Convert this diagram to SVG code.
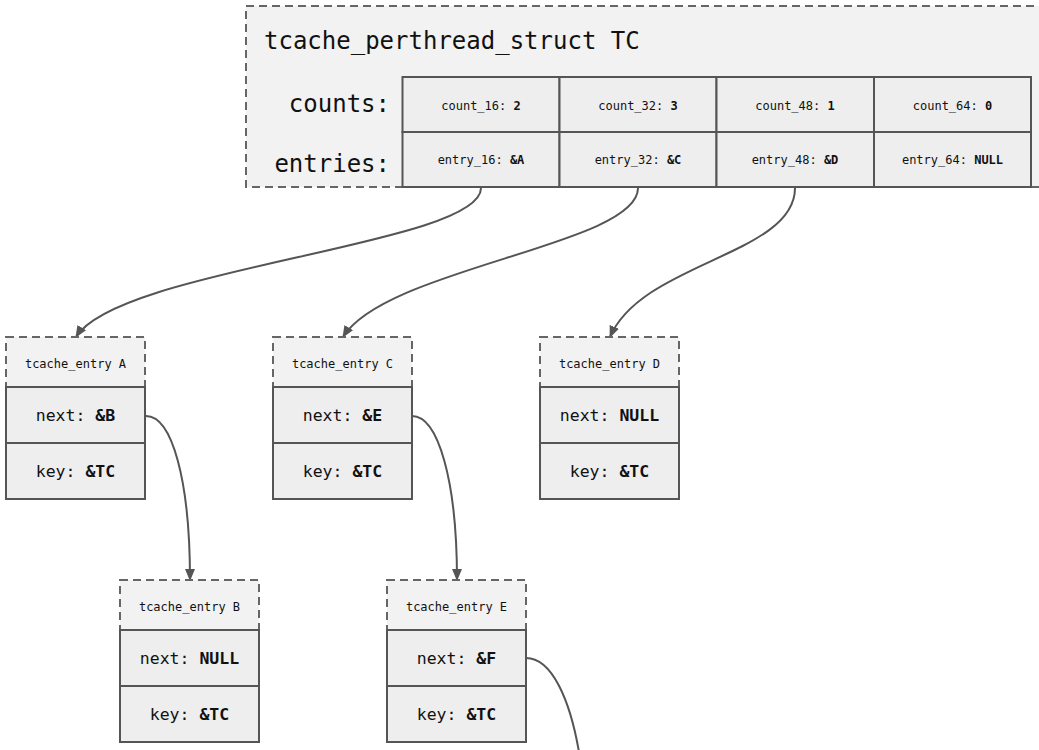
<svg xmlns="http://www.w3.org/2000/svg" width="1039" height="750" viewBox="0 0 1039 750">
<style>
text{font-family:"DejaVu Sans Mono","Liberation Mono",monospace;fill:#111}
.hdr{fill:#f2f2f2;stroke:#666;stroke-width:2;stroke-dasharray:8 5}
.cell{fill:#eeeeee;stroke:#555;stroke-width:2}
.s{font-size:12px;text-anchor:middle}
.m{font-size:16.5px;text-anchor:middle}
.big{font-size:24px}
.b{font-weight:bold}
.edge{fill:none;stroke:#555;stroke-width:2;marker-end:url(#arr)}
</style>
<defs>
<marker id="arr" viewBox="0 0 12 10" refX="11" refY="5" markerWidth="12" markerHeight="10" markerUnits="userSpaceOnUse" orient="auto">
<path d="M0,0 L12,5 L0,10 z" fill="#555"/>
</marker>
</defs>
<rect width="1039" height="750" fill="#ffffff"/>
<g id="TC">
<rect class="hdr" x="246" y="6" width="820" height="181"/>
<text class="big" x="264" y="49">tcache_perthread_struct TC</text>
<text class="big" x="390" y="112" text-anchor="end">counts:</text>
<text class="big" x="390" y="172" text-anchor="end">entries:</text>
<rect class="cell" x="402.5" y="77" width="157" height="55"/>
<rect class="cell" x="559.5" y="77" width="157" height="55"/>
<rect class="cell" x="716.5" y="77" width="157.5" height="55"/>
<rect class="cell" x="874" y="77" width="157" height="55"/>
<rect class="cell" x="402.5" y="132" width="157" height="55"/>
<rect class="cell" x="559.5" y="132" width="157" height="55"/>
<rect class="cell" x="716.5" y="132" width="157.5" height="55"/>
<rect class="cell" x="874" y="132" width="157" height="55"/>
<text class="s" x="481" y="110">count_16: <tspan class="b">2</tspan></text>
<text class="s" x="638" y="110">count_32: <tspan class="b">3</tspan></text>
<text class="s" x="795" y="110">count_48: <tspan class="b">1</tspan></text>
<text class="s" x="952.5" y="110">count_64: <tspan class="b">0</tspan></text>
<text class="s" x="481" y="164">entry_16: <tspan class="b">&amp;A</tspan></text>
<text class="s" x="638" y="164">entry_32: <tspan class="b">&amp;C</tspan></text>
<text class="s" x="795" y="164">entry_48: <tspan class="b">&amp;D</tspan></text>
<text class="s" x="952.5" y="164">entry_64: <tspan class="b">NULL</tspan></text>
</g>
<g id="connectors">
<path class="edge" d="M481,188 C481,245 118,268 76,337"/>
<path class="edge" d="M638,188 C638,245 385,268 343,337"/>
<path class="edge" d="M795,188 C795,255 642,262 610,337"/>
<path class="edge" d="M146,416 C172,416 190,480 190,580"/>
<path class="edge" d="M412,416 C438,416 457,480 457,580"/>
<path fill="none" stroke="#555" stroke-width="2" d="M526,658 C552,658 570,700 579,752"/>
</g>
<g id="A">
<rect class="hdr" x="6" y="337" width="139" height="50"/>
<rect class="cell" x="6" y="387" width="139" height="56"/>
<rect class="cell" x="6" y="443" width="139" height="56"/>
<text class="s" x="75.5" y="368">tcache_entry A</text>
<text class="m" x="75.5" y="421">next: <tspan class="b">&amp;B</tspan></text>
<text class="m" x="75.5" y="477">key: <tspan class="b">&amp;TC</tspan></text>
</g>
<g id="C">
<rect class="hdr" x="273" y="337" width="139" height="50"/>
<rect class="cell" x="273" y="387" width="139" height="56"/>
<rect class="cell" x="273" y="443" width="139" height="56"/>
<text class="s" x="342.5" y="368">tcache_entry C</text>
<text class="m" x="342.5" y="421">next: <tspan class="b">&amp;E</tspan></text>
<text class="m" x="342.5" y="477">key: <tspan class="b">&amp;TC</tspan></text>
</g>
<g id="D">
<rect class="hdr" x="540" y="337" width="139" height="50"/>
<rect class="cell" x="540" y="387" width="139" height="56"/>
<rect class="cell" x="540" y="443" width="139" height="56"/>
<text class="s" x="609.5" y="368">tcache_entry D</text>
<text class="m" x="609.5" y="421">next: <tspan class="b">NULL</tspan></text>
<text class="m" x="609.5" y="477">key: <tspan class="b">&amp;TC</tspan></text>
</g>
<g id="B">
<rect class="hdr" x="120" y="580" width="139" height="50"/>
<rect class="cell" x="120" y="630" width="139" height="56"/>
<rect class="cell" x="120" y="686" width="139" height="56"/>
<text class="s" x="189.5" y="611">tcache_entry B</text>
<text class="m" x="189.5" y="664">next: <tspan class="b">NULL</tspan></text>
<text class="m" x="189.5" y="720">key: <tspan class="b">&amp;TC</tspan></text>
</g>
<g id="E">
<rect class="hdr" x="387" y="580" width="139" height="50"/>
<rect class="cell" x="387" y="630" width="139" height="56"/>
<rect class="cell" x="387" y="686" width="139" height="56"/>
<text class="s" x="456.5" y="611">tcache_entry E</text>
<text class="m" x="456.5" y="664">next: <tspan class="b">&amp;F</tspan></text>
<text class="m" x="456.5" y="720">key: <tspan class="b">&amp;TC</tspan></text>
</g>
</svg>
